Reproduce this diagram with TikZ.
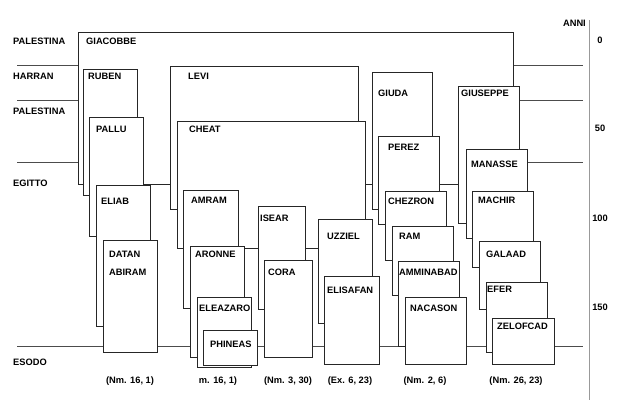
\documentclass[tikz,border=0pt]{standalone}
\usepackage{fontspec}
\setmainfont{Liberation Sans}
\usepackage{xcolor}
\usetikzlibrary{positioning}

\begin{document}
\begin{tikzpicture}[
        x=1pt, y=-1pt,
        font=\fontsize{9.3}{11}\selectfont\bfseries,
        lbox/.style={draw=black!85, fill=white, line width=0.8pt},
        era/.style={draw=black!70, line width=0.8pt},
        lbl/.style={anchor=west, inner sep=0pt, text height=6.6pt, text depth=0pt},
        ref/.style={inner sep=0pt, text height=6.6pt, text depth=0pt},
        num/.style={inner sep=0pt, text height=6.6pt, text depth=0pt}
    ]
        \useasboundingbox (0,0) rectangle (631,400);
        % periods
        \coordinate (e1a) at (17,65);  \coordinate (e1b) at (583,65);
        \coordinate (e2a) at (17,100); \coordinate (e2b) at (583,100);
        \coordinate (e3a) at (17,162); \coordinate (e3b) at (583,162);
        \coordinate (e4a) at (17,346); \coordinate (e4b) at (583,346);
        \draw[era] (e1a) -- (e1b);
        \draw[era] (e2a) -- (e2b);
        \draw[era] (e3a) -- (e3b);
        \draw[era] (e4a) -- (e4b);
        \node[lbl] (pal1) at (13,41) {PALESTINA};
        \node[lbl] (harran) at (13,76) {HARRAN};
        \node[lbl] (pal2) at (13,111) {PALESTINA};
        \node[lbl] (egitto) at (13,183) {EGITTO};
        \node[lbl] (esodo) at (13,362) {ESODO};
        % years axis
        \coordinate (ax0) at (589,20);
        \coordinate (ax1) at (589,400);
        \draw[black!40, line width=0.8pt] (ax0) -- (ax1);
        \node[num, anchor=east] (anni) at (586,23) {ANNI};
        \node[num] (y0) at (600,40) {0};
        \node[num] (y50) at (600,128) {50};
        \node[num] (y100) at (600,218) {100};
        \node[num] (y150) at (600,307) {150};
        % Giacobbe
        \draw[lbox] (78,32) rectangle (513,184);
        \node[lbl] (giacobbe) at (86,41) {GIACOBBE};
        % Ruben
        \draw[lbox] (83,69) rectangle (137,195);
        \node[lbl] (ruben) at (88,76) {RUBEN};
        \draw[lbox] (89,117) rectangle (143,236);
        \node[lbl] (pallu) at (96,129) {PALLU};
        \draw[lbox] (96,185) rectangle (150,326);
        \node[lbl] (eliab) at (101,201) {ELIAB};
        \draw[lbox] (103,240) rectangle (157,352);
        \node[lbl] (datan) at (109,254) {DATAN};
        \node[lbl] (abiram) at (109,272) {ABIRAM};
        % Levi
        \draw[lbox] (170,66) rectangle (358,209);
        \node[lbl] (levi) at (188,76) {LEVI};
        \draw[lbox] (177,121) rectangle (365,248);
        \node[lbl] (cheat) at (189,129) {CHEAT};
        \draw[lbox] (183,190) rectangle (238,308);
        \node[lbl] (amram) at (191,200) {AMRAM};
        \draw[lbox] (190,246) rectangle (244,357);
        \node[lbl] (aronne) at (195,254) {ARONNE};
        \draw[lbox] (197,297) rectangle (251,367);
        \node[lbl] (eleazaro) at (199,308) {ELEAZARO};
        \draw[lbox] (203,330) rectangle (257,365);
        \node[lbl] (phineas) at (210,344) {PHINEAS};
        \draw[lbox] (258,206) rectangle (305,309);
        \node[lbl] (isear) at (260,218) {ISEAR};
        \draw[lbox] (264,260) rectangle (312,357);
        \node[lbl] (cora) at (268,272) {CORA};
        \draw[lbox] (318,219) rectangle (372,323);
        \node[lbl] (uzziel) at (327,236) {UZZIEL};
        \draw[lbox] (324,276) rectangle (379,364);
        \node[lbl] (elisafan) at (327,290) {ELISAFAN};
        % Giuda
        \draw[lbox] (372,72) rectangle (432,209);
        \node[lbl] (giuda) at (378,93) {GIUDA};
        \draw[lbox] (378,136) rectangle (439,224);
        \node[lbl] (perez) at (388,147) {PEREZ};
        \draw[lbox] (385,191) rectangle (446,260);
        \node[lbl] (chezron) at (388,201) {CHEZRON};
        \draw[lbox] (392,226) rectangle (453,295);
        \node[lbl] (ram) at (399,236) {RAM};
        \draw[lbox] (398,261) rectangle (459,346);
        \node[lbl] (amminabad) at (399,272) {AMMINABAD};
        \draw[lbox] (405,297) rectangle (466,364);
        \node[lbl] (nacason) at (410,308) {NACASON};
        % Giuseppe
        \draw[lbox] (458,86) rectangle (519,223);
        \node[lbl] (giuseppe) at (461,93) {GIUSEPPE};
        \draw[lbox] (466,149) rectangle (527,238);
        \node[lbl] (manasse) at (471,164) {MANASSE};
        \draw[lbox] (472,191) rectangle (533,267);
        \node[lbl] (machir) at (478,200) {MACHIR};
        \draw[lbox] (479,241) rectangle (540,309);
        \node[lbl] (galaad) at (486,254) {GALAAD};
        \draw[lbox] (486,282) rectangle (547,352);
        \node[lbl] (efer) at (487,289) {EFER};
        \draw[lbox] (492,318) rectangle (554,364);
        \node[lbl] (zelofcad) at (497,326) {ZELOFCAD};
        % sources
        \node[ref] (src1) at (130,380) {(Nm. 16, 1)};
        \node[ref] (src2) at (218,380) {m. 16, 1)};
        \node[ref] (src3) at (288,380) {(Nm. 3, 30)};
        \node[ref] (src4) at (350,380) {(Ex. 6, 23)};
        \node[ref] (src5) at (425,380) {(Nm. 2, 6)};
        \node[ref] (src6) at (516,380) {(Nm. 26, 23)};
    \end{tikzpicture}
\end{document}
